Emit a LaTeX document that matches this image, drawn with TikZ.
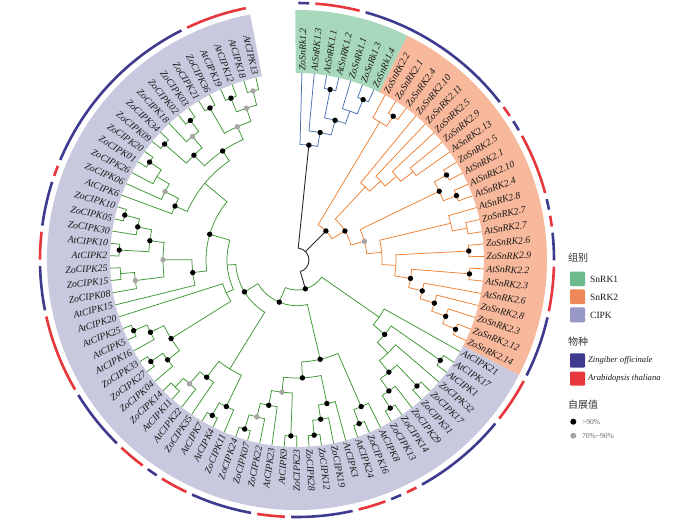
\documentclass[tikz,border=0pt]{standalone}
\usepackage{fontspec}
\setmainfont{Liberation Serif}
\newfontfamily\cjk{Noto Sans CJK SC}
\pgfdeclarelayer{front}
\pgfsetlayers{main,front}
\definecolor{cs1}{RGB}{72,112,178}
\definecolor{cs2}{RGB}{240,128,48}
\definecolor{cci}{RGB}{62,150,52}
\definecolor{stemc}{RGB}{40,40,40}
\definecolor{bandA}{RGB}{168,216,188}
\definecolor{bandB}{RGB}{247,184,156}
\definecolor{bandC}{RGB}{200,200,222}
\definecolor{legA}{RGB}{108,187,143}
\definecolor{legB}{RGB}{240,137,90}
\definecolor{legC}{RGB}{152,152,196}
\definecolor{zoc}{RGB}{62,59,142}
\definecolor{atc}{RGB}{230,55,60}
\definecolor{gdot}{RGB}{170,165,165}
\definecolor{labc}{RGB}{25,25,25}
\newcommand\lf[2]{%
  \pgfmathsetmacro\la{88.5-3.8*#1}%
  \expandafter\xdef\csname ang@l#1\endcsname{\la}%
  \coordinate (l#1) at (\la:187);
  \ifdim\la pt>-90pt
    \node[lab, anchor=west, rotate=\la] at (\la:189.5) {#2};
  \else
    \pgfmathsetmacro\lb{\la+180}%
    \node[lab, anchor=east, rotate=\lb] at (\la:189.5) {#2};
  \fi
}
\newcommand\tn[5]{%
  \edef\aA{\csname ang@#3\endcsname}%
  \edef\aB{\csname ang@#4\endcsname}%
  \pgfmathsetmacro\am{(\aA+\aB)/2}%
  \expandafter\xdef\csname ang@#1\endcsname{\am}%
  \coordinate (#1) at (\am:#2);
  \draw[br] (#3) -- (\aA:#2) arc[start angle=\aA, end angle=\aB, radius=#2] -- (#4);
  \ifx B#5\begin{pgfonlayer}{front}\fill[dotb] (#1) circle (2.7);\end{pgfonlayer}\fi
  \ifx G#5\begin{pgfonlayer}{front}\fill[dotg] (#1) circle (2.7);\end{pgfonlayer}\fi
}
\newcommand\rr[3]{%
  \pgfmathsetmacro\ra{88.5-3.8*#1+1.9-0.7}%
  \pgfmathsetmacro\rb{88.5-3.8*#2-1.9+0.7}%
  \draw[#3, line width=2.6pt] (\ra:257) arc[start angle=\ra, end angle=\rb, radius=257];
}
\newcommand\band[3]{%
  \fill[#3] (#1:187) arc[start angle=#1, end angle=#2, radius=187] -- (#2:250) arc[start angle=#2, end angle=#1, radius=250] -- cycle;
}
\begin{document}
\begin{tikzpicture}[x=1pt,y=1pt,
  br/.style={draw=\brc, line width=0.75pt, line join=miter},
  stem/.style={draw=stemc, line width=0.9pt},
  lab/.style={font=\fontsize{9.7}{10}\selectfont\itshape, inner sep=0pt, text=labc},
  dotb/.style={fill=black},
  dotg/.style={fill=gdot},
  legbox/.style={rounded corners=1pt},
  legtxt/.style={font=\fontsize{9.5}{11}\selectfont, text=labc, anchor=west, inner sep=0pt},
  legit/.style={font=\fontsize{8.6}{10}\selectfont\itshape, text=labc, anchor=west, inner sep=0pt},
  legtit/.style={font=\cjk\fontsize{10}{12}\selectfont, text=black!80, anchor=west, inner sep=0pt},
  legsm/.style={font=\fontsize{7.5}{9}\selectfont, text=black!60, anchor=west, inner sep=0pt}]
\useasboundingbox[fill=white] (-297,-262) rectangle (403,260);
% bands
\band{90.4}{63.8}{bandA}
\band{63.8}{-27.4}{bandB}
\band{-27.4}{-259.2}{bandC}
% species ring
\rr{0}{0}{zoc} \rr{1}{3}{atc} \rr{4}{13}{zoc} \rr{14}{14}{atc} \rr{15}{15}{zoc}
\rr{16}{19}{atc} \rr{20}{20}{zoc} \rr{21}{21}{atc} \rr{22}{23}{zoc} \rr{24}{26}{atc}
\rr{27}{30}{zoc} \rr{31}{33}{atc} \rr{34}{39}{zoc} \rr{40}{40}{atc} \rr{41}{41}{zoc}
\rr{42}{43}{atc} \rr{44}{47}{zoc} \rr{48}{49}{atc} \rr{50}{53}{zoc} \rr{54}{55}{atc}
\rr{56}{56}{zoc} \rr{57}{58}{atc} \rr{59}{62}{zoc} \rr{63}{67}{atc} \rr{68}{70}{zoc}
\rr{71}{72}{atc} \rr{73}{75}{zoc} \rr{76}{76}{atc} \rr{77}{87}{zoc} \rr{88}{91}{atc}
% leaves
\lf{0}{ZoSnRk1.2}
\lf{1}{AtSnRK1.3}
\lf{2}{AtSnRK1.1}
\lf{3}{AtSnRK1.2}
\lf{4}{ZoSnRk1.1}
\lf{5}{ZoSnRk1.3}
\lf{6}{ZoSnRk1.4}
\lf{7}{ZoSnRK2.2}
\lf{8}{ZoSnRK2.1}
\lf{9}{ZoSnRK2.4}
\lf{10}{ZoSnRK2.10}
\lf{11}{ZoSnRK2.11}
\lf{12}{ZoSnRK2.5}
\lf{13}{ZoSnRK2.9}
\lf{14}{AtSnRK2.13}
\lf{15}{ZoSnRK2.5}
\lf{16}{AtSnRK2.1}
\lf{17}{AtSnRK2.10}
\lf{18}{AtSnRK2.4}
\lf{19}{AtSnRK2.8}
\lf{20}{ZoSnRK2.7}
\lf{21}{AtSnRK2.7}
\lf{22}{ZoSnRK2.6}
\lf{23}{ZoSnRK2.9}
\lf{24}{AtSnRK2.2}
\lf{25}{AtSnRK2.3}
\lf{26}{AtSnRK2.6}
\lf{27}{ZoSnRK2.8}
\lf{28}{ZoSnRK2.3}
\lf{29}{ZoSnRK2.12}
\lf{30}{ZoSnRK2.14}
\lf{31}{AtCIPK21}
\lf{32}{AtCIPK17}
\lf{33}{AtCIPK1}
\lf{34}{ZoCIPK32}
\lf{35}{ZoCIPK17}
\lf{36}{ZoCIPK31}
\lf{37}{ZoCIPK29}
\lf{38}{ZoCIPK14}
\lf{39}{ZoCIPK13}
\lf{40}{AtCIPK8}
\lf{41}{ZoCIPK16}
\lf{42}{AtCIPK24}
\lf{43}{AtCIPK3}
\lf{44}{ZoCIPK19}
\lf{45}{ZoCIPK12}
\lf{46}{ZoCIPK28}
\lf{47}{ZoCIPK23}
\lf{48}{AtCIPK9}
\lf{49}{AtCIPK23}
\lf{50}{ZoCIPK22}
\lf{51}{ZoCIPK07}
\lf{52}{ZoCIPK24}
\lf{53}{ZoCIPK11}
\lf{54}{AtCIPK4}
\lf{55}{AtCIPK7}
\lf{56}{ZoCIPK35}
\lf{57}{AtCIPK22}
\lf{58}{AtCIPK11}
\lf{59}{ZoCIPK14}
\lf{60}{ZoCIPK04}
\lf{61}{ZoCIPK27}
\lf{62}{ZoCIPK33}
\lf{63}{AtCIPK16}
\lf{64}{AtCIPK5}
\lf{65}{AtCIPK25}
\lf{66}{AtCIPK20}
\lf{67}{AtCIPK15}
\lf{68}{ZoCIPK08}
\lf{69}{ZoCIPK15}
\lf{70}{ZoCIPK25}
\lf{71}{AtCIPK2}
\lf{72}{AtCIPK10}
\lf{73}{ZoCIPK30}
\lf{74}{ZoCIPK05}
\lf{75}{ZoCIPK10}
\lf{76}{AtCIPK6}
\lf{77}{ZoCIPK06}
\lf{78}{ZoCIPK26}
\lf{79}{ZoCIPK01}
\lf{80}{ZoCIPK20}
\lf{81}{ZoCIPK09}
\lf{82}{ZoCIPK34}
\lf{83}{ZoCIPK18}
\lf{84}{ZoCIPK02}
\lf{85}{ZoCIPK03}
\lf{86}{ZoCIPK21}
\lf{87}{ZoCIPK36}
\lf{88}{AtCIPK19}
\lf{89}{AtCIPK12}
\lf{90}{AtCIPK18}
\lf{91}{AtCIPK13}
% SnRK1 clade
\def\brc{cs1}
\tn{a1}{173.7}{l2}{l3}{B}
\tn{a2}{173.5}{l5}{l6}{B}
\tn{a3}{158}{l4}{a2}{N}
\tn{a4}{144.8}{a1}{a3}{B}
\tn{a5}{129.6}{l1}{a4}{B}
\tn{a6}{115.5}{l0}{a5}{B}
% SnRK2 clade
\def\brc{cs2}
\tn{b1}{173}{l8}{l9}{B}
\tn{bA}{161}{l7}{b1}{N}
\tn{b13}{146}{l13}{l14}{N}
\tn{b12}{130}{l12}{b13}{N}
\tn{b11}{115}{l11}{b12}{N}
\tn{b10}{100}{l10}{b11}{N}
\tn{q1}{172}{l15}{l16}{B}
\tn{q2}{172}{l17}{l18}{B}
\tn{bQ}{158}{q1}{q2}{B}
\tn{p2}{173}{l20}{l21}{N}
\tn{bP}{158}{l19}{p2}{N}
\tn{n23}{172}{l22}{l23}{B}
\tn{n1}{173}{l24}{l25}{B}
\tn{n2}{173}{l29}{l30}{B}
\tn{k4}{159}{l28}{n2}{B}
\tn{k3}{144}{l27}{k4}{B}
\tn{k2}{129}{l26}{k3}{B}
\tn{bK}{115}{n1}{k2}{B}
\tn{bY}{99}{n23}{bK}{N}
\tn{bW}{85}{bP}{bY}{N}
\tn{bG}{70}{bQ}{bW}{G}
\tn{bS}{56}{b10}{bG}{B}
\tn{bR}{41}{bA}{bS}{B}
% CIPK clade
\def\brc{cci}
\tn{c3233}{175}{l32}{l33}{B}
\tn{c3536}{174}{l35}{l36}{B}
\tn{c3839}{175}{l38}{l39}{B}
\tn{c160}{160}{l37}{c3839}{B}
\tn{c145}{145}{c3536}{c160}{B}
\tn{cX}{130}{l34}{c145}{N}
\tn{c115}{115}{c3233}{cX}{B}
\tn{cRG}{100}{l31}{c115}{N}
\tn{c4142}{175}{l41}{l42}{B}
\tn{cBGR}{160}{l40}{c4142}{B}
\tn{cH3}{176}{l45}{l46}{B}
\tn{cH2}{161}{l44}{cH3}{B}
\tn{cH1}{146.6}{l43}{cH2}{B}
\tn{c4748}{176}{l47}{l48}{B}
\tn{c5152}{177}{l51}{l52}{B}
\tn{cg162}{162}{l50}{c5152}{G}
\tn{c148}{148}{l49}{cg162}{B}
\tn{cg133}{133}{c4748}{c148}{G}
\tn{cBGL}{118}{cg133}{cH1}{B}
\tn{cBG}{102}{cBGL}{cBGR}{B}
\tn{c5455}{177}{l54}{l55}{B}
\tn{c162}{162.7}{l53}{c5455}{B}
\tn{c5859}{176}{l58}{l59}{N}
\tn{cg164}{164}{l57}{c5859}{G}
\tn{cM148}{148}{l56}{cg164}{B}
\tn{cF}{128}{c162}{cM148}{N}
\tn{c6162}{178}{l61}{l62}{B}
\tn{cOb}{163.4}{l60}{c6162}{B}
\tn{c6465}{178}{l64}{l65}{B}
\tn{cOa}{163.4}{l63}{c6465}{B}
\tn{cO148}{148.4}{cOb}{cOa}{B}
\tn{cP78}{78}{cO148}{l66}{N}
\tn{c6970}{177}{l69}{l70}{N}
\tn{cg163}{163}{l68}{c6970}{G}
\tn{c7172}{178}{l71}{l72}{B}
\tn{c7475}{178}{l74}{l75}{B}
\tn{c163n}{162.7}{l73}{c7475}{B}
\tn{cN149}{148.4}{c7172}{c163n}{B}
\tn{cg134}{134}{cg163}{cN149}{G}
\tn{cT105}{105}{l67}{cg134}{B}
\tn{c7980}{177}{l79}{l80}{B}
\tn{c163u}{163}{l78}{c7980}{N}
\tn{cg148}{148.6}{l77}{c163u}{G}
\tn{c133}{133.4}{l76}{cg148}{B}
\tn{c8182}{176}{l81}{l82}{B}
\tn{c8485}{175.6}{l84}{l85}{B}
\tn{cg162u}{161.8}{l83}{c8485}{G}
\tn{c147}{147}{c8182}{cg162u}{B}
\tn{c8687}{175.2}{l86}{l87}{B}
\tn{c8889}{174.8}{l88}{l89}{B}
\tn{c9091}{174.7}{l90}{l91}{G}
\tn{cg160}{160}{c8889}{c9091}{G}
\tn{cg146}{146}{c8687}{cg160}{G}
\tn{c132}{132}{c147}{cg146}{B}
\tn{cUG}{120}{c133}{c132}{N}
\tn{cV}{91}{cT105}{cUG}{B}
\tn{cUP}{70}{cP78}{cV}{N}
\tn{cLG}{61.4}{cF}{cUP}{B}
\tn{cD}{45.7}{cBG}{cLG}{B}
\tn{cCR}{30}{cRG}{cD}{B}
% root
\edef\rA{\csname ang@a6\endcsname}
\edef\rB{\csname ang@bR\endcsname}
\edef\rC{\csname ang@cCR\endcsname}
\coordinate (root) at (0,0);
\draw[stem] (\rA:12) arc[start angle=\rA, end angle=\rC, radius=12];
\draw[stem] (\rA:12) -- (a6);
\draw[stem] (\rB:12) -- (bR);
\draw[stem] (\rC:12) -- (cCR);
% legend
\node[legtit] (t1) at (271,2) {组别};
\fill[legA, legbox] (273,-11.7) rectangle (288,-26);
\node[legtxt] (s1) at (293,-19) {SnRK1};
\fill[legB, legbox] (273,-29.3) rectangle (288,-44);
\node[legtxt] (s2) at (293,-37) {SnRK2};
\fill[legC, legbox] (273,-47.3) rectangle (288,-62.3);
\node[legtxt] (s3) at (293,-55) {CIPK};
\node[legtit] (t2) at (271,-82) {物种};
\fill[zoc, legbox] (273,-93.3) rectangle (288,-107.7);
\node[legit] (z1) at (291,-100.5) {Zingiber officinale};
\fill[atc, legbox] (273,-111.7) rectangle (288,-125.7);
\node[legit] (z2) at (291,-118.7) {Arabidopsis thaliana};
\node[legtit] (t3) at (271,-145) {自展值};
\fill[black] (276.3,-161.7) circle (3);
\node[legsm] (d1) at (285,-161.7) {>90\%};
\fill[gdot] (276.3,-175.7) circle (3);
\node[legsm] (d2) at (285,-175.7) {70\%\textasciitilde 90\%};
\end{tikzpicture}
\end{document}
